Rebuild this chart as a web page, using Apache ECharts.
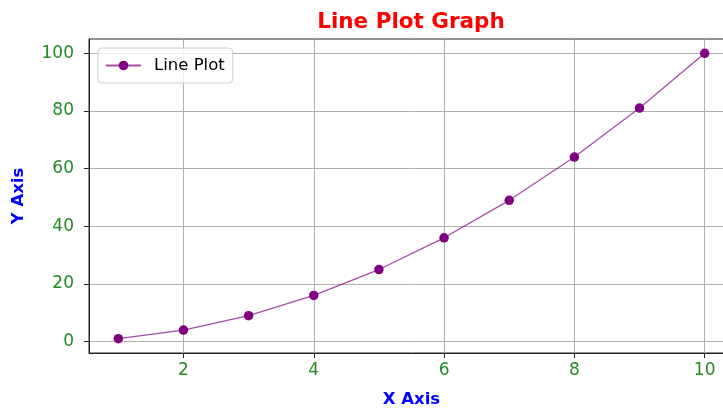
<!DOCTYPE html>
<html>
<head>
<meta charset="utf-8">
<script src="https://cdn.jsdelivr.net/npm/echarts@6/dist/echarts.min.js"></script>
<style>
html, body { margin: 0; padding: 0; overflow: hidden; background: #fff; width: 723px; height: 408px; }
#chart { width: 745px; height: 408px; }
</style>
</head>
<body>
<div id="chart"></div>
<script>
const xValues = [1, 2, 3, 4, 5, 6, 7, 8, 9, 10];
const yValues = [1, 4, 9, 16, 25, 36, 49, 64, 81, 100];
const xTicks = [2, 4, 6, 8, 10];
const yTicks = [0, 20, 40, 60, 80, 100];
const seriesName = 'Line Plot';
const titleText = 'Line Plot Graph';
const xLabel = 'X Axis';
const yLabel = 'Y Axis';

const FONT = 'DejaVu Sans';
const chart = echarts.init(document.getElementById('chart'), null, { renderer: 'canvas' });

const xMin = 0.55, xMax = 10.45, yMin = -3.95, yMax = 104.95;

chart.setOption({
  animation: false,
  backgroundColor: '#ffffff',
  graphic: [{
    type: 'text', x: 411, y: 22, z: 100,
    style: { text: titleText, fill: '#ff0000', font: 'bold 21.5px "DejaVu Sans"', align: 'center', verticalAlign: 'middle' }
  }],
  grid: { left: 89, top: 39, width: 645, height: 314, outerBoundsMode: 'none', containLabel: false, show: true, borderColor: '#262626', borderWidth: 1, backgroundColor: 'transparent' },
  legend: {
    left: 98, top: 48,
    padding: [9, 8, 9, 7],
    itemWidth: 35, itemHeight: 12,
    backgroundColor: 'rgba(255,255,255,0.8)',
    borderColor: '#cccccc', borderWidth: 1, borderRadius: 4,
    textStyle: { fontFamily: FONT, fontSize: 16.5, color: '#000', padding: [0, 0, 0, 8] },
    data: [seriesName]
  },
  xAxis: {
    type: 'value', min: xMin, max: xMax,
    name: xLabel, nameLocation: 'middle', nameGap: 38,
    nameTextStyle: { color: '#0000ff', fontWeight: 'bold', fontSize: 16.5, fontFamily: FONT },
    axisLine: { show: true, onZero: false, lineStyle: { color: '#262626', width: 1 } },
    axisTick: { show: true, length: 5, customValues: xTicks, lineStyle: { color: '#262626' } },
    axisLabel: { customValues: xTicks, color: '#228b22', fontSize: 17, fontFamily: FONT, margin: 9 },
    splitLine: { show: true, lineStyle: { color: '#b0b0b0', width: 1 } }
  },
  yAxis: {
    type: 'value', min: yMin, max: yMax,
    name: yLabel, nameLocation: 'middle', nameGap: 62, nameRotate: 90,
    nameTextStyle: { color: '#0000ff', fontWeight: 'bold', fontSize: 16.5, fontFamily: FONT },
    axisLine: { show: true, onZero: false, lineStyle: { color: '#262626', width: 1 } },
    axisTick: { show: true, length: 5, customValues: yTicks, lineStyle: { color: '#262626' } },
    axisLabel: { customValues: yTicks, color: '#228b22', fontSize: 17, fontFamily: FONT, margin: 15 },
    splitLine: { show: true, lineStyle: { color: '#b0b0b0', width: 1 } }
  },
  series: [{
    name: seriesName,
    type: 'line',
    data: xValues.map((x, i) => [x, yValues[i]]),
    symbol: 'circle', symbolSize: 9.5,
    itemStyle: { color: '#800080' },
    lineStyle: { color: 'rgba(128,0,128,0.7)', width: 1.3 }
  }]
});
</script>
</body>
</html>
